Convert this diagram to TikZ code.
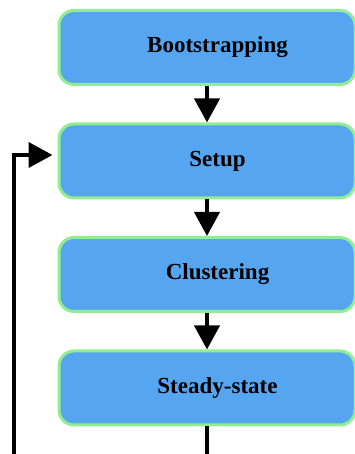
\documentclass[tikz,border=0pt]{standalone}
\usepackage{fontspec}
\setmainfont{Liberation Serif}
\usetikzlibrary{arrows.meta}
\definecolor{boxblue}{HTML}{55A5F0}
\definecolor{boxgreen}{HTML}{90EE90}
\begin{document}
\begin{tikzpicture}[x=1pt, y=1pt, node distance={113.5pt}, line width=4pt,
  main/.style = {draw=boxgreen, line width=3pt, fill=boxblue, rounded corners=15pt, minimum width=296pt, minimum height=74pt, font=\fontsize{23}{28}\selectfont\bfseries, execute at begin node={\hspace*{21pt}}},
  flow/.style = {-{Triangle[length=24pt, width=25pt]}}]
\useasboundingbox (0,0) rectangle (355,454);
\node[main] (B) at (207,406.5) {Bootstrapping};
\node[main] (S) [below of=B] {Setup};
\node[main] (C) [below of=S] {Clustering};
\node[main] (T) [below of=C] {Steady-state};
\coordinate (loop) at (14,-20);

\draw[flow] (B) -- (S);
\draw[flow] (S) -- (C);
\draw[flow] (C) -- (T);
\draw[flow, shorten >=5pt] (T.south) |- (loop) |- ([yshift=6pt]S.west);

\end{tikzpicture}
\end{document}
